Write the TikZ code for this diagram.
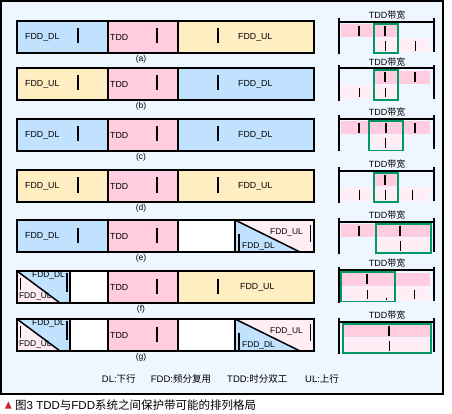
\documentclass[tikz,border=0pt]{standalone}
\usepackage{fontspec}
\setmainfont{Liberation Sans}
\newfontfamily\cjk{Noto Sans CJK SC}
\definecolor{bgblue}{HTML}{EEF6FF}
\definecolor{dlblue}{HTML}{C0E2FF}
\definecolor{tddpink}{HTML}{FFCCE0}
\definecolor{ulyel}{HTML}{FFEEC2}
\definecolor{ltpink}{HTML}{FFEEF6}
\definecolor{grn}{HTML}{009966}
\definecolor{capred}{HTML}{CC2233}
\tikzset{
  segline/.style={draw=black, line width=1.6pt},
  tbar/.style={line width=2pt},
  thinbar/.style={line width=0.9pt},
  lbl/.style={anchor=west, inner sep=0, font=\fontsize{8.8}{10}\selectfont},
  slbl/.style={anchor=west, inner sep=0, font=\fontsize{8.4}{10}\selectfont},
  rowlbl/.style={inner sep=0, font=\fontsize{8.5}{10}\selectfont},
  head/.style={inner sep=0, font=\fontsize{9}{10}\selectfont},
  pline/.style={line width=2pt},
  pleft/.style={line width=2pt},
  pright/.style={line width=1.1pt},
  gbox/.style={draw=grn, line width=1.8pt},
  leg/.style={anchor=west, inner sep=0, font=\fontsize{9.5}{10}\selectfont},
}
\newcommand\Seg[4]{\filldraw[segline, fill=#4] (#1,#3) rectangle (#2,#3+32);}
\newcommand\TBar[2]{\draw[tbar] (#1,#2+7.5) -- (#1,#2+22.5);}
% right split box: top y, name prefix
\newcommand\SplitR[2]{%
  \fill[ltpink] (235,#1) rectangle (314,#1+32);
  \fill[dlblue] (235,#1) -- (300,#1+32) -- (235,#1+32) -- cycle;
  \draw[line width=1.5pt] (235,#1) -- (300,#1+32);
  \draw[segline] (235,#1) rectangle (314,#1+32);
  \node[slbl] (#2u) at (270,#1+12.7) {FDD\_UL};
  \node[slbl] (#2d) at (242,#1+26) {FDD\_DL};
  \draw[line width=2pt] (239,#1+13.5) -- (239,#1+31);
  \draw[line width=0.9pt] (310,#1+5) -- (310,#1+21.5);
}
% left split box
\newcommand\SplitL[2]{%
  \fill[ltpink] (17,#1) rectangle (70,#1+32);
  \fill[dlblue] (17,#1) -- (70,#1) -- (70,#1+32) -- (60,#1+32) -- cycle;
  \draw[line width=1.5pt] (17,#1) -- (60,#1+32);
  \draw[segline] (17,#1) rectangle (70,#1+32);
  \node[slbl] (#2d) at (32,#1+4.8) {FDD\_DL};
  \node[slbl] (#2u) at (18.8,#1+25.7) {FDD\_UL};
  \draw[line width=0.9pt] (20.7,#1+7) -- (20.7,#1+19);
  \draw[line width=1.2pt] (67,#1+2) -- (67,#1+21);
}
% panel frame: line y, name
\newcommand\Panel[2]{%
  \node[head] (#2) at (387,#1-6.5) {TDD{\cjk 带宽}};
  \draw[pline] (339,#1) -- (434,#1);
  \draw[pleft] (339,#1-3.5) -- (339,#1+32.5);
  \draw[pright] (434,#1-3.5) -- (434,#1+30.5);
}
\newcommand\PTop[3]{\fill[tddpink] (#1,#3+2.5) rectangle (#2,#3+15.5);}
\newcommand\PBot[3]{\fill[ltpink] (#1,#3+16.5) rectangle (#2,#3+30.5);}
\newcommand\PTB[2]{\draw[tbar] (#1,#2+4) -- (#1,#2+14);}
\newcommand\PBB[2]{\draw[thinbar] (#1,#2+19.5) -- (#1,#2+29);}
\newcommand\PG[3]{\draw[gbox] (#1,#3+2) rectangle (#2,#3+31.5);}
\begin{document}
\begin{tikzpicture}[x=1pt,y=-1pt]
\useasboundingbox (0,0) rectangle (452,414);
\fill[white] (0,0) rectangle (452,414);
\filldraw[fill=bgblue, draw=black, line width=2pt] (1.3,1.3) rectangle (443.3,394);

% ---------- row a ----------
\Seg{17}{108}{21}{dlblue}\Seg{108}{178}{21}{tddpink}\Seg{178}{314}{21}{ulyel}
\node[lbl] (a1) at (25,37) {FDD\_DL};
\node[lbl] (a2) at (110,37) {TDD};
\node[lbl] (a3) at (238,37) {FDD\_UL};
\TBar{78}{21}\TBar{157}{21}\TBar{218}{21}
\node[rowlbl] (la) at (141,59) {(a)};
% ---------- row b ----------
\Seg{17}{108}{68}{ulyel}\Seg{108}{178}{68}{tddpink}\Seg{178}{314}{68}{dlblue}
\node[lbl] (b1) at (25,84) {FDD\_UL};
\node[lbl] (b2) at (110,84) {TDD};
\node[lbl] (b3) at (238,84) {FDD\_DL};
\TBar{78}{68}\TBar{157}{68}\TBar{218}{68}
\node[rowlbl] (lb) at (141,106.5) {(b)};
% ---------- row c ----------
\Seg{17}{108}{119}{dlblue}\Seg{108}{178}{119}{tddpink}\Seg{178}{314}{119}{dlblue}
\node[lbl] (c1) at (25,135) {FDD\_DL};
\node[lbl] (c2) at (110,135) {TDD};
\node[lbl] (c3) at (238,135) {FDD\_DL};
\TBar{78}{119}\TBar{157}{119}\TBar{218}{119}
\node[rowlbl] (lc) at (141,157) {(c)};
% ---------- row d ----------
\Seg{17}{108}{170}{ulyel}\Seg{108}{178}{170}{tddpink}\Seg{178}{314}{170}{ulyel}
\node[lbl] (d1) at (25,186) {FDD\_UL};
\node[lbl] (d2) at (110,186) {TDD};
\node[lbl] (d3) at (238,186) {FDD\_UL};
\TBar{78}{170}\TBar{157}{170}\TBar{218}{170}
\node[rowlbl] (ld) at (141,208) {(d)};
% ---------- row e ----------
\Seg{17}{108}{220}{dlblue}\Seg{108}{178}{220}{tddpink}\Seg{178}{235}{220}{white}
\SplitR{220}{e}
\node[lbl] (e1) at (25,236) {FDD\_DL};
\node[lbl] (e2) at (110,236) {TDD};
\TBar{78}{220}\TBar{157}{220}
\node[rowlbl] (le) at (141,258) {(e)};
% ---------- row f ----------
\Seg{70}{108}{271}{white}\Seg{108}{178}{271}{tddpink}\Seg{178}{314}{271}{ulyel}
\SplitL{271}{f}
\node[lbl] (f2) at (110,287) {TDD};
\node[lbl] (f3) at (240,287) {FDD\_UL};
\TBar{157}{271}\TBar{218}{271}
\node[rowlbl] (lf) at (141,309) {(f)};
% ---------- row g ----------
\Seg{70}{108}{319}{white}\Seg{108}{178}{319}{tddpink}\Seg{178}{235}{319}{white}
\SplitL{319}{gl}
\SplitR{319}{gr}
\node[lbl] (g2) at (110,335) {TDD};
\TBar{157}{319}
\node[rowlbl] (lg) at (141,357.5) {(g)};

% ---------- panels ----------
% a
\PTop{341}{398}{21.7}\PBot{374}{430}{21.7}
\PTB{359}{21.7}\PTB{385}{21.7}\PBB{385.7}{21.7}\PBB{415}{21.7}
\PG{373.7}{397.7}{21.7}
\Panel{21.7}{ha}
% b
\PTop{374}{430}{68.3}\PBot{341}{398}{68.3}
\PTB{385}{68.3}\PTB{415}{68.3}\PBB{359}{68.3}\PBB{385.7}{68.3}
\PG{373.7}{397.7}{68.3}
\Panel{68.3}{hb}
% c
\PTop{341}{430}{119}\PBot{369}{402}{119}
\PTB{359}{119}\PTB{385.7}{119}\PTB{415}{119}\PBB{385.7}{119}
\PG{368.7}{402.7}{119}
\Panel{119}{hc}
% d
\PTop{374}{398}{170.7}\PBot{341}{430}{170.7}
\PTB{385}{170.7}\PBB{359}{170.7}\PBB{385.7}{170.7}\PBB{412}{170.7}
\PG{373.7}{397.7}{170.7}
\Panel{170.7}{hd}
% e
\PTop{341}{430}{221.7}\PBot{376.7}{430}{221.7}
\PTB{359}{221.7}\PTB{400}{221.7}\PBB{400.7}{221.7}
\PG{375.7}{430.7}{221.7}
\Panel{221.7}{he}
% f
\PTop{341}{430}{270}\PBot{341}{430}{270}
\PTB{366.7}{270}\PBB{367.3}{270}\PBB{414}{270}
\draw[thinbar] (386.7,298.3) -- (386.7,299.8);
\PG{341}{395}{270}
\Panel{270}{hf}
% g
\PTop{343}{430}{321.7}\PBot{343}{430}{321.7}
\PTB{389}{321.7}\PBB{389}{321.7}
\PG{343.3}{430.7}{321.7}
\Panel{321.7}{hg}

% ---------- legend ----------
\node[leg] (k1) at (101.7,379) {DL:{\cjk 下行}};
\node[leg] (k2) at (150.7,379) {FDD:{\cjk 频分复用}};
\node[leg] (k3) at (227,379) {TDD:{\cjk 时分双工}};
\node[leg] (k4) at (305,379) {UL:{\cjk 上行}};

% ---------- caption ----------
\fill[capred] (5,408.5) -- (8.3,401.5) -- (11.7,408.5) -- cycle;
\node[anchor=west, inner sep=0, font=\fontsize{11.5}{12}\selectfont] (cap) at (15,405.5)
  {{\cjk 图}3 TDD{\cjk 与}FDD{\cjk 系统之间保护带可能的排列格局}};
\end{tikzpicture}
\end{document}
